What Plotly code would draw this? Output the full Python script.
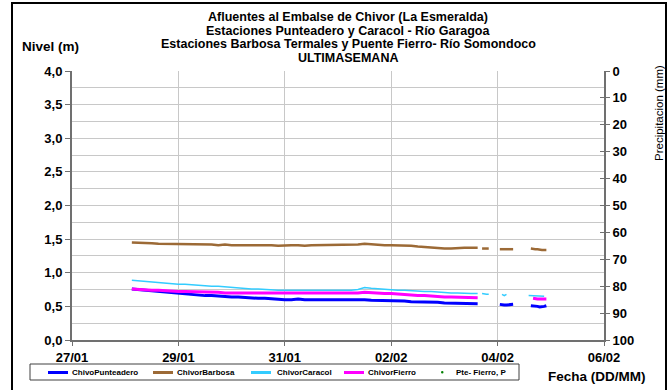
import pandas as pd
import plotly.graph_objects as go

# ---------------- data ----------------
# 3-hourly readings 28/01 03:00 .. 03/02 15:00 (53 values)
main_times = pd.date_range("2013-01-28 03:00", "2013-02-03 15:00", freq="3h")
# hourly readings 03/02 16:00 .. 04/02 23:00 (32 values, gaps = None)
tail_times = pd.date_range("2013-02-03 16:00", "2013-02-04 23:00", freq="1h")

punteadero_main = [0.76, 0.75, 0.74, 0.73, 0.72, 0.71, 0.70, 0.69, 0.68, 0.68,
                   0.67, 0.66, 0.66, 0.65, 0.65, 0.64, 0.64, 0.63, 0.63, 0.62,
                   0.62, 0.61, 0.61, 0.60, 0.60, 0.61, 0.60, 0.60, 0.60, 0.60,
                   0.61, 0.60, 0.60, 0.60, 0.60, 0.60, 0.59, 0.59, 0.59, 0.58,
                   0.58, 0.58, 0.57, 0.57, 0.56, 0.56, 0.56, 0.55, 0.55, 0.55,
                   0.54, 0.54, 0.54]
punteadero_tail = [None, None, None, None, None, None, None, None, None,
                   0.53, 0.52, 0.52, 0.52, 0.52, 0.52, 0.53,
                   None, None, None, None, None, None, None,
                   0.51, 0.51, 0.51, 0.50, 0.49, 0.49, 0.50, 0.51, None]

barbosa_main = [1.45, 1.45, 1.44, 1.44, 1.43, 1.43, 1.43, 1.42, 1.43, 1.42,
                1.42, 1.43, 1.42, 1.41, 1.42, 1.41, 1.41, 1.42, 1.41, 1.41,
                1.41, 1.41, 1.40, 1.41, 1.41, 1.41, 1.40, 1.41, 1.41, 1.42,
                1.41, 1.41, 1.42, 1.42, 1.42, 1.43, 1.42, 1.42, 1.41, 1.41,
                1.41, 1.41, 1.40, 1.39, 1.38, 1.38, 1.37, 1.36, 1.36, 1.37,
                1.37, 1.37, 1.37]
barbosa_tail = [None, 1.36, 1.36, 1.36, 1.36, None, None, None, None,
                1.35, 1.35, 1.35, 1.35, 1.35, 1.35, 1.35,
                None, None, None, None, None, None, None,
                1.36, 1.35, 1.35, 1.35, 1.34, 1.34, 1.34, 1.34, None]

caracol_main = [0.89, 0.88, 0.87, 0.86, 0.86, 0.85, 0.84, 0.83, 0.83, 0.82,
                0.81, 0.81, 0.80, 0.80, 0.79, 0.78, 0.77, 0.77, 0.76, 0.76,
                0.75, 0.75, 0.74, 0.74, 0.74, 0.73, 0.74, 0.73, 0.73, 0.74,
                0.73, 0.74, 0.73, 0.74, 0.75, 0.78, 0.77, 0.76, 0.75, 0.75,
                0.74, 0.74, 0.73, 0.73, 0.72, 0.72, 0.71, 0.71, 0.70, 0.70,
                0.69, 0.69, 0.69]
caracol_tail = [None, 0.69, 0.68, 0.68, 0.68, None, None, None, None, None,
                0.68, 0.66, 0.68,
                None, None, None, None, None, None, None, None, None,
                0.66, 0.66, 0.66, 0.65, 0.65, 0.65, 0.66, 0.65, None, None]

fierro_main = [0.76, 0.75, 0.75, 0.74, 0.74, 0.73, 0.73, 0.72, 0.72, 0.72,
               0.71, 0.71, 0.71, 0.71, 0.70, 0.70, 0.70, 0.70, 0.70, 0.69,
               0.69, 0.69, 0.69, 0.69, 0.70, 0.70, 0.70, 0.70, 0.70, 0.70,
               0.69, 0.70, 0.69, 0.69, 0.70, 0.71, 0.70, 0.70, 0.69, 0.69,
               0.68, 0.67, 0.67, 0.66, 0.66, 0.65, 0.65, 0.64, 0.64, 0.64,
               0.63, 0.63, 0.63]
fierro_tail = [None] * 24 + [0.62, 0.61, 0.61, 0.61, 0.61, 0.61, 0.61, None]

precip_times = []
precip_values = []

x_tick_labels = ["27/01", "29/01", "31/01", "02/02", "04/02", "06/02"]
series_names = ["ChivoPunteadero", "ChivorBarbosa", "ChivorCaracol",
                "ChivorFierro", "Pte- Fierro, P"]

# ---------------- figure ----------------
times = list(main_times) + list(tail_times)
FONT = "Liberation Sans"
COLORS = ["#0000FF", "#9C6A36", "#33CCFF", "#FF00FF", "#008000"]
WIDTHS = [3, 2.5, 1.5, 3]

fig = go.Figure()
values = [punteadero_main + punteadero_tail, barbosa_main + barbosa_tail,
          caracol_main + caracol_tail, fierro_main + fierro_tail]
for name, vals, col, w in zip(series_names[:4], values, COLORS, WIDTHS):
    fig.add_trace(go.Scatter(x=times, y=vals, name=name, mode="lines",
                             line=dict(color=col, width=w),
                             connectgaps=False))

fig.add_trace(go.Scatter(x=precip_times if precip_times else [None],
                         y=precip_values if precip_values else [None],
                         name=series_names[4], mode="markers",
                         marker=dict(color=COLORS[4], size=3),
                         yaxis="y2"))

W, H = 671, 390
L, R, T, B = 72, 67, 71, 50
pw, ph = W - L - R, H - T - B


def px(xp):
    return (xp - L) / pw


def py(yp):
    return (H - B - yp) / ph


tickvals = pd.date_range("2013-01-27", "2013-02-06", freq="2D")
TICKFONT = dict(size=13, family=FONT, weight="bold", color="black")

fig.update_layout(
    width=W, height=H,
    margin=dict(l=L, r=R, t=T, b=B, autoexpand=False),
    paper_bgcolor="white", plot_bgcolor="white",
    separators=",.",
    font=dict(family=FONT, color="black", size=11, weight="bold"),
    showlegend=False,
    xaxis=dict(type="date", range=["2013-01-27", "2013-02-06"],
               tickvals=list(tickvals), ticktext=x_tick_labels,
               showgrid=True, gridcolor="#c8c8c8", gridwidth=1,
               showline=True, linecolor="#707070", linewidth=2,
               ticks="outside", ticklen=4, tickcolor="#707070",
               tickfont=TICKFONT, zeroline=False),
    yaxis=dict(range=[0, 4], dtick=0.5, tickformat=".1f",
               showgrid=True, gridcolor="#c8c8c8", gridwidth=1,
               minor=dict(dtick=0.25, showgrid=True, gridcolor="#c8c8c8",
                          gridwidth=1),
               showline=True, linecolor="#707070", linewidth=2,
               ticks="outside", ticklen=5, tickcolor="#707070",
               tickfont=TICKFONT, zeroline=False),
    yaxis2=dict(range=[100, 0], dtick=10, overlaying="y", side="right",
                showgrid=False, showline=True, linecolor="#707070",
                linewidth=2, ticks="outside", ticklen=4,
                tickcolor="#707070", zeroline=False, tickfont=TICKFONT),
    yaxis3=dict(range=[100, 0], dtick=10, overlaying="y", side="right",
                showgrid=False, showline=False, ticks="inside", ticklen=4,
                tickcolor="#707070", showticklabels=False, zeroline=False),
)

# invisible trace to activate yaxis3
fig.add_trace(go.Scatter(x=[None], y=[None], yaxis="y3", showlegend=False,
                         hoverinfo="skip"))

title_lines = [
    ("Afluentes al Embalse de Chivor (La Esmeralda)", 17),
    ("Estaciones Punteadero y Caracol - Río Garagoa", 31),
    ("Estaciones Barbosa Termales y Puente Fierro- Río Somondoco", 44.5),
    ("ULTIMASEMANA", 58),
]
for txt, yy in title_lines:
    fig.add_annotation(text=txt, x=px(348), y=py(yy), xref="paper",
                       yref="paper", showarrow=False, xanchor="center",
                       yanchor="middle",
                       font=dict(size=12.5, family=FONT, weight="bold"))

fig.add_annotation(text="Nivel (m)", x=px(50), y=py(46), xref="paper",
                   yref="paper", showarrow=False, xanchor="center",
                   yanchor="middle",
                   font=dict(size=13.5, family=FONT, weight="bold"))
fig.add_annotation(text="Fecha (DD/MM)", x=px(597), y=py(377), xref="paper",
                   yref="paper", showarrow=False, xanchor="center",
                   yanchor="middle",
                   font=dict(size=13.5, family=FONT, weight="bold"))
fig.add_annotation(text="Precipitacion (mm)", x=px(659), y=py(113),
                   xref="paper", yref="paper", showarrow=False,
                   xanchor="center", yanchor="middle", textangle=-90,
                   font=dict(size=11.5, family=FONT, weight="normal"))

# ---- legend box (drawn manually to match the compact original) ----
fig.add_shape(type="rect", xref="paper", yref="paper",
              x0=px(30), x1=px(519), y0=py(380), y1=py(364),
              line=dict(color="#404040", width=1), fillcolor="white")
leg_line_x = [48, 153, 251, 344]
leg_text_x = [70, 175, 275, 366, 454]
ly = py(372.5)
for i in range(4):
    fig.add_shape(type="line", xref="paper", yref="paper",
                  x0=px(leg_line_x[i]), x1=px(leg_line_x[i] + 20),
                  y0=ly, y1=ly, line=dict(color=COLORS[i], width=3))
fig.add_shape(type="circle", xref="paper", yref="paper",
              x0=px(441), x1=px(443.5), y0=py(373.5), y1=py(371),
              line=dict(color=COLORS[4], width=0), fillcolor=COLORS[4])
for i, name in enumerate(series_names):
    fig.add_annotation(text=name, x=px(leg_text_x[i]), y=ly, xref="paper",
                       yref="paper", showarrow=False, xanchor="left",
                       yanchor="middle",
                       font=dict(size=8, family=FONT, weight="bold"))

# outer frame
fig.add_shape(type="rect", xref="paper", yref="paper",
              x0=px(12), x1=px(666), y0=py(395), y1=py(3),
              line=dict(color="black", width=2), fillcolor="rgba(0,0,0,0)",
              layer="above")

fig.write_html("out.html",
               config={"displayModeBar": False},
               post_script="document.body.style.margin='0';"
                           "document.body.style.overflow='hidden';")
